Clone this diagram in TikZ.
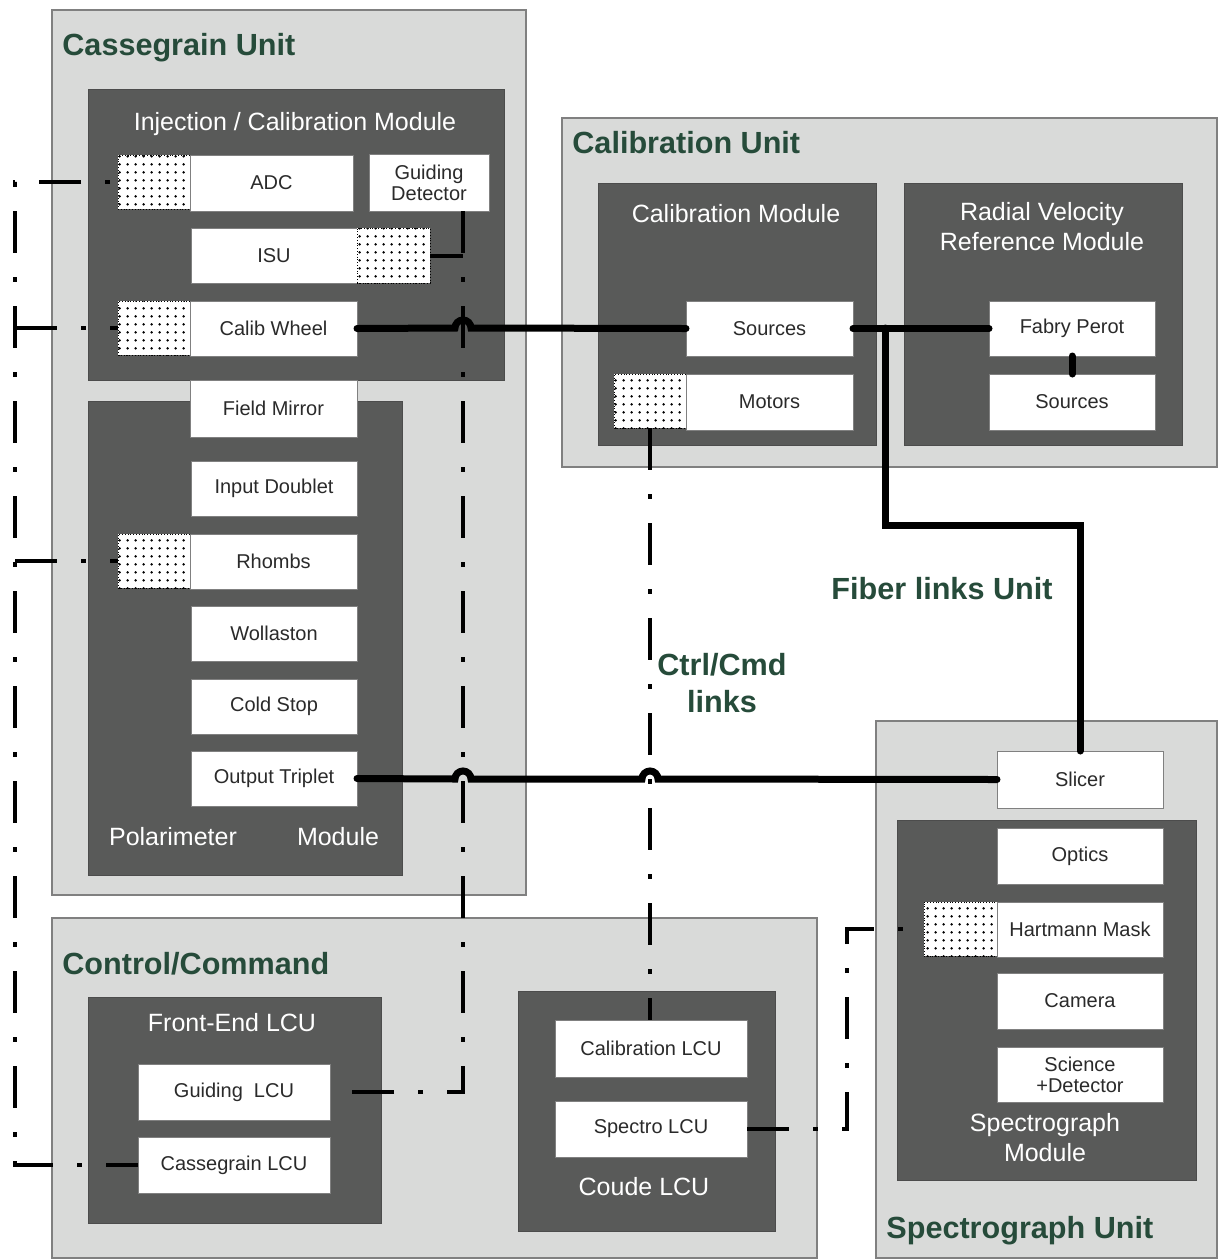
\documentclass[tikz,border=0pt]{standalone}
\usepackage{fontspec}
\setmainfont{Liberation Sans}
\usetikzlibrary{patterns.meta,calc}
\definecolor{unitfill}{HTML}{D9DAD9}
\definecolor{unitline}{HTML}{808080}
\definecolor{modfill}{HTML}{595A59}
\definecolor{ttl}{HTML}{264B3A}
\definecolor{boxtext}{HTML}{2A2A2A}
\newcommand\bx[7]{\node[#6, minimum width={(#4-#2)*0.5pt}, minimum height={(#5-#3)*0.5pt}] (#1) at ({(#2+#4)/2},{(#3+#5)/2}) {#7};}
\tikzset{
  unit/.style={draw=unitline, fill=unitfill, line width=0.6pt, inner sep=0pt, outer sep=0pt},
  module/.style={draw=modfill!85!black, fill=modfill, line width=0.5pt, inner sep=0pt, outer sep=0pt},
  wbox/.style={draw=unitline, fill=white, line width=0.5pt, inner sep=0pt, outer sep=0pt, font=\fontsize{10}{11.5}\selectfont, text=boxtext, align=center},
  patch/.style={draw=black, densely dotted, line width=0.4pt, inner sep=0pt, outer sep=0pt, preaction={fill=white}, pattern={Dots[distance=4pt, radius=0.75pt]}, pattern color=black},
  utitle/.style={font=\fontsize{15.3}{18}\selectfont\bfseries, text=ttl, inner sep=0pt},
  mtitle/.style={font=\fontsize{12.5}{15}\selectfont, text=white, inner sep=0pt},
  fiber/.style={line width=3.5pt, line cap=round, line join=miter},
  ctrl/.style={line width=2pt, dash pattern=on 21pt off 12pt on 2.5pt off 12pt}
}
\begin{document}
\begin{tikzpicture}[x=0.5pt,y=-0.5pt]
\fill[white] (0,0) rectangle (1218,1260);
\useasboundingbox (0,0) rectangle (1218,1260);

% ---------- Units ----------
\bx{cassu}{52}{10}{526}{895}{unit}{}
\bx{calu}{562}{118}{1217}{467}{unit}{}
\bx{specu}{876}{721}{1217}{1258}{unit}{}
\bx{ctrlu}{52}{918}{817}{1258}{unit}{}

\node[utitle, anchor=base west] (t1) at (62,55) {Cassegrain Unit};
\node[utitle, anchor=base west] (t2) at (572,153) {Calibration Unit};
\node[utitle, anchor=base west] (t3) at (62,974) {Control/Command};
\node[utitle, anchor=base west] (t4) at (886,1238) {Spectrograph Unit};
\node[utitle, anchor=base] (t5) at (942,599) {Fiber links Unit};
\node[utitle, anchor=base] (t6) at (722,675) {Ctrl/Cmd};
\node[utitle, anchor=base] (t7) at (722,712) {links};

% ---------- Modules ----------
\bx{injm}{88}{89}{504}{380}{module}{}
\bx{polm}{88}{401}{402}{875}{module}{}
\bx{calm}{598}{183}{876}{445}{module}{}
\bx{rvm}{904}{183}{1182}{445}{module}{}
\bx{spm}{897}{820}{1196}{1180}{module}{}
\bx{felcu}{88}{997}{381}{1223}{module}{}
\bx{coude}{518}{991}{775}{1231}{module}{}

\node[mtitle, anchor=base] (m1) at (295,130) {Injection / Calibration Module};
\node[mtitle, anchor=base] (m2) at (173,845) {Polarimeter};
\node[mtitle, anchor=base] (m3) at (338,845) {Module};
\node[mtitle, anchor=base] (m4) at (736,222) {Calibration Module};
\node[mtitle, anchor=base] (m5) at (1042,220) {Radial Velocity};
\node[mtitle, anchor=base] (m6) at (1042,250) {Reference Module};
\node[mtitle, anchor=base] (m7) at (1045,1131) {Spectrograph};
\node[mtitle, anchor=base] (m8) at (1045,1161) {Module};
\node[mtitle, anchor=base] (m9) at (232,1031) {Front-End LCU};
\node[mtitle, anchor=base] (m10) at (644,1195) {Coude LCU};

% ---------- Boxes: Cassegrain ----------
\bx{adcp}{118}{155}{190}{209}{patch}{}
\bx{adc}{190}{155}{353}{211}{wbox}{ADC}
\bx{gd}{369}{154}{489}{211}{wbox}{Guiding\\[-1pt]Detector}
\bx{isu}{191}{228}{357}{283}{wbox}{ISU}
\bx{isup}{357}{228}{430}{283}{patch}{}
\bx{cwp}{118}{301}{190}{355}{patch}{}
\bx{cw}{190}{301}{357}{356}{wbox}{Calib Wheel}
\bx{fm}{190}{380}{357}{437}{wbox}{Field Mirror}
\bx{id}{191}{461}{357}{516}{wbox}{Input Doublet}
\bx{rhp}{118}{534}{190}{588}{patch}{}
\bx{rh}{190}{534}{357}{589}{wbox}{Rhombs}
\bx{wo}{191}{606}{357}{661}{wbox}{Wollaston}
\bx{cs}{191}{679}{357}{734}{wbox}{Cold Stop}
\bx{ot}{191}{751}{357}{806}{wbox}{Output Triplet}

% ---------- Boxes: Calibration ----------
\bx{src}{686}{301}{853}{356}{wbox}{Sources}
\bx{motp}{614}{374}{686}{428}{patch}{}
\bx{mot}{686}{374}{853}{430}{wbox}{Motors}
\bx{fp}{989}{301}{1155}{356}{wbox}{Fabry Perot}
\bx{rvs}{989}{374}{1155}{430}{wbox}{Sources}

% ---------- Boxes: Spectrograph ----------
\bx{sl}{997}{751}{1163}{808}{wbox}{Slicer}
\bx{op}{997}{828}{1163}{884}{wbox}{Optics}
\bx{hmp}{924}{902}{997}{956}{patch}{}
\bx{hm}{997}{902}{1163}{957}{wbox}{Hartmann Mask}
\bx{cam}{997}{973}{1163}{1029}{wbox}{Camera}
\bx{sd}{997}{1047}{1163}{1102}{wbox}{Science\\[-1pt]+Detector}

% ---------- Boxes: Control ----------
\bx{glcu}{138}{1064}{330}{1120}{wbox}{Guiding\ \ LCU}
\bx{clcu}{138}{1137}{330}{1193}{wbox}{Cassegrain LCU}
\bx{calcu}{555}{1020}{747}{1077}{wbox}{Calibration LCU}
\bx{slcu}{555}{1101}{747}{1157}{wbox}{Spectro LCU}

% ---------- Bus coordinates ----------
\coordinate (lb) at (15,0);
\coordinate (b2) at (463,0);
\coordinate (b4) at (847,0);
\coordinate (fsplit) at (885,328);

% ---------- Ctrl/Cmd links ----------
\draw[ctrl, dash phase=29pt] (adcp.west) -- (lb |- adcp.west) -- (lb |- clcu.west) -- (clcu.west);
\draw[ctrl] (lb |- cwp.west) -- (cwp.west);
\draw[ctrl] (lb |- rhp.west) -- (rhp.west);
\draw[ctrl] (gd.south -| b2) -- (b2 |- glcu.east) -- (glcu.east);
\draw[line width=2pt] (isup.east) -- (isup.east -| b2);
\draw[ctrl] (motp.south) -- (motp.south |- calcu.north);
\draw[ctrl] (slcu.east) -- (slcu.east -| b4) -- (b4 |- hmp.west) -- (hmp.west);

% ---------- Fiber links ----------
\draw[fiber] (cw.east) -- (455,328) arc[start angle=180, end angle=360, radius=8] -- (src.west);
\draw[fiber] (src.east) -- (fp.west);
\draw[fiber] (fsplit) -- ++(0,197) -| (sl.north);
\draw[fiber] (fp.south) -- (rvs.north);
\draw[fiber] (ot.east) -- (455,779) arc[start angle=180, end angle=360, radius=8] -- (642,779) arc[start angle=180, end angle=360, radius=8] -- (sl.west);
\end{tikzpicture}
\end{document}
